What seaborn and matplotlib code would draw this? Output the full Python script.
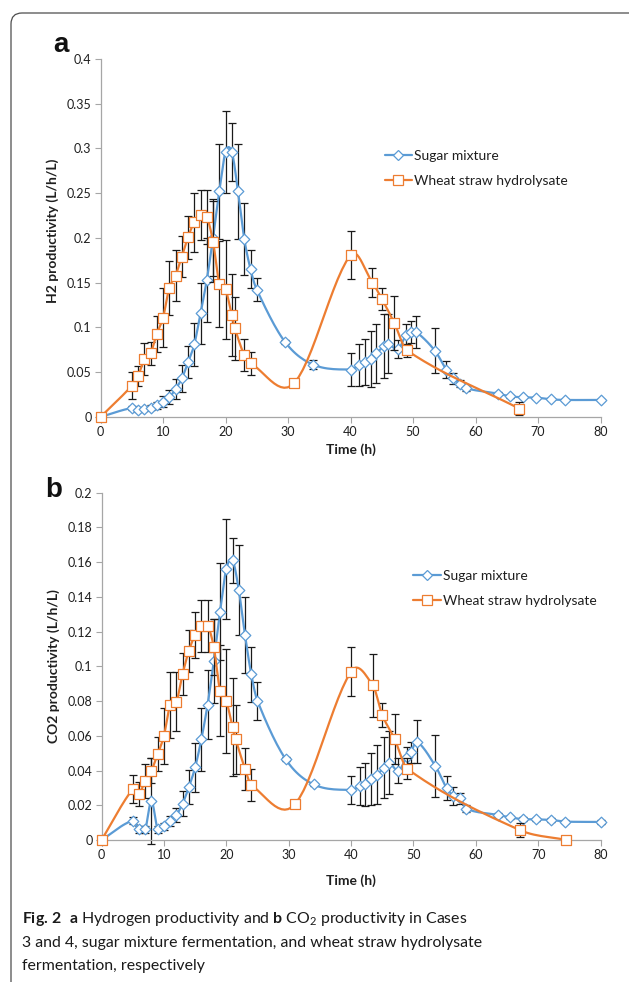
import numpy as np
import matplotlib
matplotlib.use("Agg")
import matplotlib.pyplot as plt
import seaborn as sns
from matplotlib.lines import Line2D
from matplotlib.patches import FancyBboxPatch


# values (time in h, productivity in L/h/L)
sugar_time = [0, 5, 6, 7, 8, 9, 10, 11, 12, 13, 14, 15, 16, 17, 18, 19, 20, 21, 22, 23, 24, 25,
              29.5, 34, 40, 41.4, 42.3, 43.2, 44.1, 45.3, 46, 47.6, 48.9, 49.6, 50.5,
              53.5, 55.3, 56.4, 57.5, 58.5, 63.6, 65.5, 67.6, 69.7, 72.1, 74.3, 80]
sugar_h2 = [0, 0.010, 0.0075, 0.009, 0.0104, 0.013, 0.017, 0.022, 0.031, 0.043, 0.061, 0.081,
            0.116, 0.153, 0.200, 0.252, 0.296, 0.296, 0.252, 0.199, 0.165, 0.142,
            0.084, 0.0585, 0.053, 0.058, 0.0615, 0.065, 0.071, 0.079, 0.082, 0.0756, 0.092, 0.095, 0.095,
            0.074, 0.053, 0.043, 0.037, 0.032, 0.026, 0.023, 0.022, 0.0216, 0.0197, 0.019, 0.019]
sugar_h2_err = [0, 0.002, 0.002, 0.002, 0.003, 0.004, 0.006, 0.008, 0.011, 0.015, 0.018, 0.024,
                0.034, 0.047, 0.043, 0.053, 0.046, 0.032, 0.053, 0.040, 0.021, 0.013,
                0.002, 0.005, 0.018, 0.023, 0.026, 0.031, 0.033, 0.036, 0.033, 0.010, 0.012, 0.012, 0.018,
                0.025, 0.010, 0.006, 0.004, 0.003, 0.002, 0.002, 0.001, 0.001, 0.001, 0.001, 0.001]
sugar_co2 = [0, 0.0111, 0.0061, 0.0061, 0.0225, 0.0061, 0.008, 0.011, 0.0144, 0.021, 0.0305, 0.0418,
             0.058, 0.078, 0.103, 0.1315, 0.156, 0.161, 0.144, 0.118, 0.0954, 0.080,
             0.0466, 0.032, 0.0288, 0.031, 0.032, 0.035, 0.0375, 0.0417, 0.0446, 0.040, 0.0476, 0.0505, 0.0567,
             0.0427, 0.030, 0.0254, 0.024, 0.018, 0.0144, 0.013, 0.012, 0.0119, 0.0115, 0.0106, 0.0104]
sugar_co2_err = [0, 0.002, 0.002, 0.002, 0.025, 0.002, 0.002, 0.003, 0.004, 0.007, 0.010, 0.014,
                 0.018, 0.020, 0.024, 0.028, 0.029, 0.013, 0.026, 0.022, 0.016, 0.011,
                 0.001, 0.001, 0.008, 0.011, 0.0125, 0.015, 0.017, 0.0175, 0.018, 0.007, 0.006, 0.006, 0.0125,
                 0.0177, 0.007, 0.005, 0.003, 0.002, 0.001, 0.001, 0.001, 0.001, 0.001, 0.001, 0.001]

wheat_time_a = [0, 5, 6, 7, 8, 9, 10, 11, 12, 13, 14, 15, 16, 17, 18, 19, 20, 21, 21.5, 23, 24,
                31, 40, 43.5, 45, 47, 49, 67]
wheat_h2 = [0, 0.0347, 0.0455, 0.0646, 0.071, 0.093, 0.111, 0.144, 0.158, 0.179, 0.201, 0.2175,
            0.2257, 0.223, 0.196, 0.149, 0.1425, 0.114, 0.099, 0.069, 0.060,
            0.038, 0.181, 0.150, 0.132, 0.105, 0.0745, 0.0093]
wheat_h2_err = [0, 0.015, 0.011, 0.018, 0.0125, 0.020, 0.033, 0.030, 0.028, 0.023, 0.024, 0.033,
                0.028, 0.030, 0.045, 0.048, 0.055, 0.046, 0.035, 0.018, 0.013,
                0.001, 0.027, 0.016, 0.012, 0.030, 0.007, 0.007]
wheat_time_b = [0, 5, 6, 7, 8, 9, 10, 11, 12, 13, 14, 15, 16, 17, 18, 19, 20, 21, 21.5, 23, 24,
                31, 40, 43.5, 45, 47, 49, 67, 74.5]
wheat_co2 = [0, 0.0292, 0.0265, 0.034, 0.040, 0.0495, 0.060, 0.078, 0.0797, 0.0956, 0.109, 0.118,
             0.1234, 0.1234, 0.111, 0.086, 0.080, 0.065, 0.058, 0.041, 0.0317,
             0.0206, 0.097, 0.089, 0.072, 0.058, 0.041, 0.0058, 0.0]
wheat_co2_err = [0, 0.008, 0.007, 0.010, 0.007, 0.010, 0.016, 0.019, 0.017, 0.012, 0.012, 0.013,
                 0.015, 0.015, 0.016, 0.026, 0.030, 0.028, 0.020, 0.012, 0.009,
                 0.001, 0.014, 0.018, 0.007, 0.0145, 0.006, 0.004, 0.0]

series_names = ["Sugar mixture", "Wheat straw hydrolysate"]
x_ticks = [0, 10, 20, 30, 40, 50, 60, 70, 80]
h2_ticks = [0, 0.05, 0.1, 0.15, 0.2, 0.25, 0.3, 0.35, 0.4]
h2_labels = ["0", "0.05", "0.1", "0.15", "0.2", "0.25", "0.3", "0.35", "0.4"]
co2_ticks = [0, 0.02, 0.04, 0.06, 0.08, 0.1, 0.12, 0.14, 0.16, 0.18, 0.2]
co2_labels = ["0", "0.02", "0.04", "0.06", "0.08", "0.1", "0.12", "0.14", "0.16", "0.18", "0.2"]

BLUE = "#5B9BD5"
ORANGE = "#ED7D31"
AXIS_GREY = "#A6A6A6"
TEXT = "#1f1f1f"


def smooth_line(x, y, steps=14):
    # smoothed line like the spreadsheet one: cubic bezier through the points,
    # tangent (P2 - P0) split by the x gaps on each side
    x = np.asarray(x, float)
    y = np.asarray(y, float)
    n = len(x)
    tx = np.zeros(n)
    ty = np.zeros(n)
    w_in = np.zeros(n)
    w_out = np.zeros(n)
    for i in range(n):
        i0, i2 = max(i - 1, 0), min(i + 1, n - 1)
        tx[i], ty[i] = x[i2] - x[i0], y[i2] - y[i0]
        d_in = x[i] - x[i0]
        d_out = x[i2] - x[i]
        total = d_in + d_out if d_in + d_out > 0 else 1.0
        w_in[i] = d_in / total / 3
        w_out[i] = d_out / total / 3
    t = np.linspace(0, 1, steps)
    b0, b1, b2, b3 = (1 - t) ** 3, 3 * (1 - t) ** 2 * t, 3 * (1 - t) * t ** 2, t ** 3
    out_x, out_y = [], []
    for i in range(n - 1):
        cx1, cy1 = x[i] + tx[i] * w_out[i], y[i] + ty[i] * w_out[i]
        cx2, cy2 = x[i + 1] - tx[i + 1] * w_in[i + 1], y[i + 1] - ty[i + 1] * w_in[i + 1]
        out_x.append(b0 * x[i] + b1 * cx1 + b2 * cx2 + b3 * x[i + 1])
        out_y.append(b0 * y[i] + b1 * cy1 + b2 * cy2 + b3 * y[i + 1])
    return np.concatenate(out_x), np.concatenate(out_y)


def draw_series(ax, time, values, errors, color, marker, size, base_z):
    ax.errorbar(time, values, yerr=errors, fmt="none", ecolor="#1a1a1a",
                elinewidth=0.9, capsize=2.8, capthick=0.9, zorder=base_z, clip_on=False)
    sx, sy = smooth_line(time, values)
    sns.lineplot(x=sx, y=sy, sort=False, estimator=None, color=color, linewidth=1.6,
                 ax=ax, zorder=base_z + 1)
    sns.scatterplot(x=time, y=values, marker=marker, s=size ** 2, color="white",
                    edgecolor=color, linewidth=0.9, ax=ax, zorder=base_z + 2, clip_on=False)


def style_axes(ax, yticks, ylabels, ylim, ylabel, label_y, xlabel_y):
    ax.set_xlim(0, 80)
    ax.set_ylim(*ylim)
    ax.set_xticks(x_ticks)
    ax.set_xticklabels([str(t) for t in x_ticks])
    ax.set_yticks(yticks)
    ax.set_yticklabels(ylabels)
    for side in ["top", "right"]:
        ax.spines[side].set_visible(False)
    for side in ["left", "bottom"]:
        ax.spines[side].set_color(AXIS_GREY)
        ax.spines[side].set_linewidth(0.9)
    ax.tick_params(axis="both", direction="out", length=4, width=0.8, color=AXIS_GREY,
                   labelsize=9, labelcolor=TEXT, pad=2.5, left=True, bottom=True)
    ax.set_xlabel("Time (h)", fontsize=10, fontweight="bold", color=TEXT)
    ax.set_ylabel(ylabel, fontsize=10, fontweight="bold", color=TEXT)
    ax.xaxis.set_label_coords(0.5, xlabel_y)
    ax.yaxis.set_label_coords(-0.083, label_y)
    ax.grid(False)


def add_legend(ax, x, y):
    handles = [
        Line2D([], [], color=BLUE, lw=1.6, marker="D", ms=5.4, mfc="white", mec=BLUE, mew=0.9),
        Line2D([], [], color=ORANGE, lw=1.6, marker="s", ms=7.6, mfc="white", mec=ORANGE, mew=0.9),
    ]
    ax.legend(handles, series_names, loc="upper left", bbox_to_anchor=(x, y), frameon=False,
              fontsize=10, handlelength=2.0, handletextpad=0.15, labelspacing=0.9,
              borderaxespad=0, borderpad=0, labelcolor=TEXT)


sns.set_theme(style="white")
plt.rcParams["font.family"] = ["Lato", "DejaVu Sans"]
plt.rcParams["mathtext.fontset"] = "custom"
plt.rcParams["mathtext.rm"] = "Lato"
plt.rcParams["mathtext.bf"] = "Lato:bold"
plt.rcParams["mathtext.it"] = "Lato:italic"

fig = plt.figure(figsize=(6.29, 9.82), dpi=100)
ax_a = fig.add_axes([0.1598, 0.5754, 0.795, 0.3646])
ax_b = fig.add_axes([0.1614, 0.1446, 0.7935, 0.3537])

draw_series(ax_a, sugar_time, sugar_h2, sugar_h2_err, BLUE, "D", 5.4, 2)
draw_series(ax_a, wheat_time_a, wheat_h2, wheat_h2_err, ORANGE, "s", 7.6, 5)
style_axes(ax_a, h2_ticks, h2_labels, (0, 0.4), "H2 productivity (L/h/L)", 0.52, -0.075)
add_legend(ax_a, 0.568, 0.745)

draw_series(ax_b, sugar_time, sugar_co2, sugar_co2_err, BLUE, "D", 5.4, 2)
draw_series(ax_b, wheat_time_b, wheat_co2, wheat_co2_err, ORANGE, "s", 7.6, 5)
style_axes(ax_b, co2_ticks, co2_labels, (0, 0.2), "CO2 productivity (L/h/L)", 0.5, -0.098)
add_legend(ax_b, 0.624, 0.777)

fig.text(53 / 629, 1 - 52 / 982, "a", fontsize=20, fontweight="bold",
         family="Liberation Sans", ha="left", va="baseline", color="#111111")
fig.text(45 / 629, 1 - 497 / 982, "b", fontsize=20, fontweight="bold",
         family="Liberation Sans", ha="left", va="baseline", color="#111111")

frame = FancyBboxPatch((0.11, -1.0), 10.0, 10.69, boxstyle="round,pad=0,rounding_size=0.11",
                       transform=fig.dpi_scale_trans, fill=False, edgecolor="#4d4d4d",
                       linewidth=0.9, clip_on=False)
fig.add_artist(frame)

caption_lines = [
    r"$\mathbf{Fig.\,2}$  $\mathbf{a}$ Hydrogen productivity and $\mathbf{b}$ CO$_\mathregular{2}$ productivity in Cases",
    "3 and 4, sugar mixture fermentation, and wheat straw hydrolysate",
    "fermentation, respectively",
]
for line, baseline in zip(caption_lines, [923, 946.5, 970]):
    fig.text(22 / 629, 1 - baseline / 982, line, fontsize=11.4, ha="left", va="baseline",
             color="#1a1a1a")

fig.savefig("out.png", dpi=100)
